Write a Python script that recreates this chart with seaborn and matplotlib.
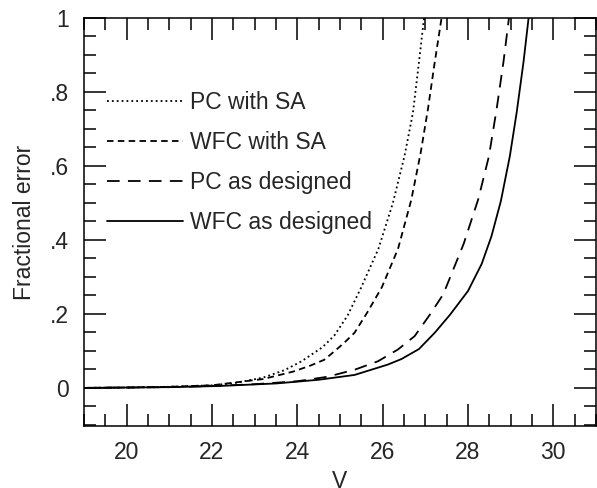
import numpy as np
import pandas as pd
import matplotlib
matplotlib.use("Agg")
import matplotlib.pyplot as plt
import seaborn as sns
from matplotlib.ticker import MultipleLocator, FixedLocator, FixedFormatter

# ---- data ----
v_pc_sa = [19, 20, 21, 22, 22.53, 23.2, 23.7, 24.1, 24.59, 24.87, 25.18, 25.49, 25.9, 26.24, 26.51, 26.71, 26.85, 26.97]
f_pc_sa = [0, 0.001, 0.003, 0.007, 0.013, 0.028, 0.048, 0.072, 0.11, 0.142, 0.196, 0.27, 0.376, 0.50, 0.626, 0.744, 0.88, 1.0]

v_wfc_sa = [19, 20, 21, 22, 23.2, 23.9, 24.3, 24.63, 24.87, 25.1, 25.34, 25.65, 25.98, 26.36, 26.67, 26.89, 27.06, 27.22, 27.38]
f_wfc_sa = [0, 0.001, 0.003, 0.007, 0.024, 0.044, 0.06, 0.076, 0.099, 0.122, 0.149, 0.206, 0.272, 0.376, 0.508, 0.635, 0.753, 0.88, 1.0]

v_pc_des = [19, 20, 21, 22, 23, 24, 24.7, 25.34, 25.89, 26.36, 26.75, 27.1, 27.42, 27.69, 27.9, 28.24, 28.49, 28.67, 28.83, 28.96]
f_pc_des = [0, 0.001, 0.002, 0.005, 0.01, 0.018, 0.03, 0.049, 0.072, 0.104, 0.14, 0.197, 0.253, 0.33, 0.39, 0.51, 0.626, 0.753, 0.88, 1.0]

v_wfc_des = [19, 20, 21, 22.13, 23.5, 24.5, 25.34, 26.12, 26.44, 26.85, 27.22, 27.58, 28.0, 28.32, 28.55, 28.77, 28.98, 29.14, 29.3, 29.42]
f_wfc_des = [0, 0.001, 0.002, 0.005, 0.012, 0.022, 0.035, 0.063, 0.078, 0.105, 0.149, 0.198, 0.262, 0.335, 0.41, 0.505, 0.626, 0.744, 0.88, 1.0]

labels = ["PC with SA", "WFC with SA", "PC as designed", "WFC as designed"]
x_ticks = [20, 22, 24, 26, 28, 30]
x_ticklabels = ["20", "22", "24", "26", "28", "30"]
y_ticks = [0, 0.2, 0.4, 0.6, 0.8, 1.0]
y_ticklabels = ["0", ".2", ".4", ".6", ".8", "1"]

frames = []
for lab, v, f in zip(labels, [v_pc_sa, v_wfc_sa, v_pc_des, v_wfc_des],
                     [f_pc_sa, f_wfc_sa, f_pc_des, f_wfc_des]):
    frames.append(pd.DataFrame({"V": v, "err": f, "curve": lab}))
df = pd.concat(frames, ignore_index=True)

sns.set_style("ticks")
plt.rcParams["font.family"] = ["Liberation Sans", "DejaVu Sans"]
plt.rcParams["lines.solid_joinstyle"] = "round"
plt.rcParams["lines.dash_joinstyle"] = "round"

FS = 16.5
fig = plt.figure(figsize=(5.97, 4.88), dpi=100)
ax = fig.add_axes([84 / 597, 1 - 426 / 488, 512 / 597, 408 / 488])

dashes = {
    "PC with SA": (1.0, 1.7),
    "WFC with SA": (3.6, 2.4),
    "PC as designed": (7.0, 4.6),
    "WFC as designed": "",
}
sns.lineplot(data=df, x="V", y="err", hue="curve", style="curve",
             hue_order=labels, style_order=labels,
             palette=["black"] * 4, dashes=dashes, linewidth=1.3,
             sort=False, estimator=None, ax=ax)

ax.set_xlim(19, 31)
ax.set_ylim(-0.103, 1.0)
ax.xaxis.set_major_locator(FixedLocator(x_ticks))
ax.xaxis.set_major_formatter(FixedFormatter(x_ticklabels))
ax.xaxis.set_minor_locator(MultipleLocator(0.5))
ax.yaxis.set_major_locator(FixedLocator(y_ticks))
ax.yaxis.set_major_formatter(FixedFormatter(y_ticklabels))
ax.yaxis.set_minor_locator(MultipleLocator(0.05))

ax.tick_params(which="both", direction="in", top=True, right=True, width=1.1, color="black")
ax.tick_params(which="major", length=16, labelsize=FS, pad=11)
ax.tick_params(which="minor", length=8.5)
for s in ax.spines.values():
    s.set_linewidth(1.1)
    s.set_color("black")

ax.set_xlabel("V", fontsize=FS, labelpad=4)
ax.set_ylabel("Fractional error", fontsize=FS, labelpad=10)

sns.move_legend(ax, "upper left", bbox_to_anchor=(0.045, 0.822), title=None,
                frameon=False, fontsize=FS, handlelength=3.32, handletextpad=0.3,
                labelspacing=0.75, borderpad=0, borderaxespad=0)

fig.savefig("out.png", dpi=100)
